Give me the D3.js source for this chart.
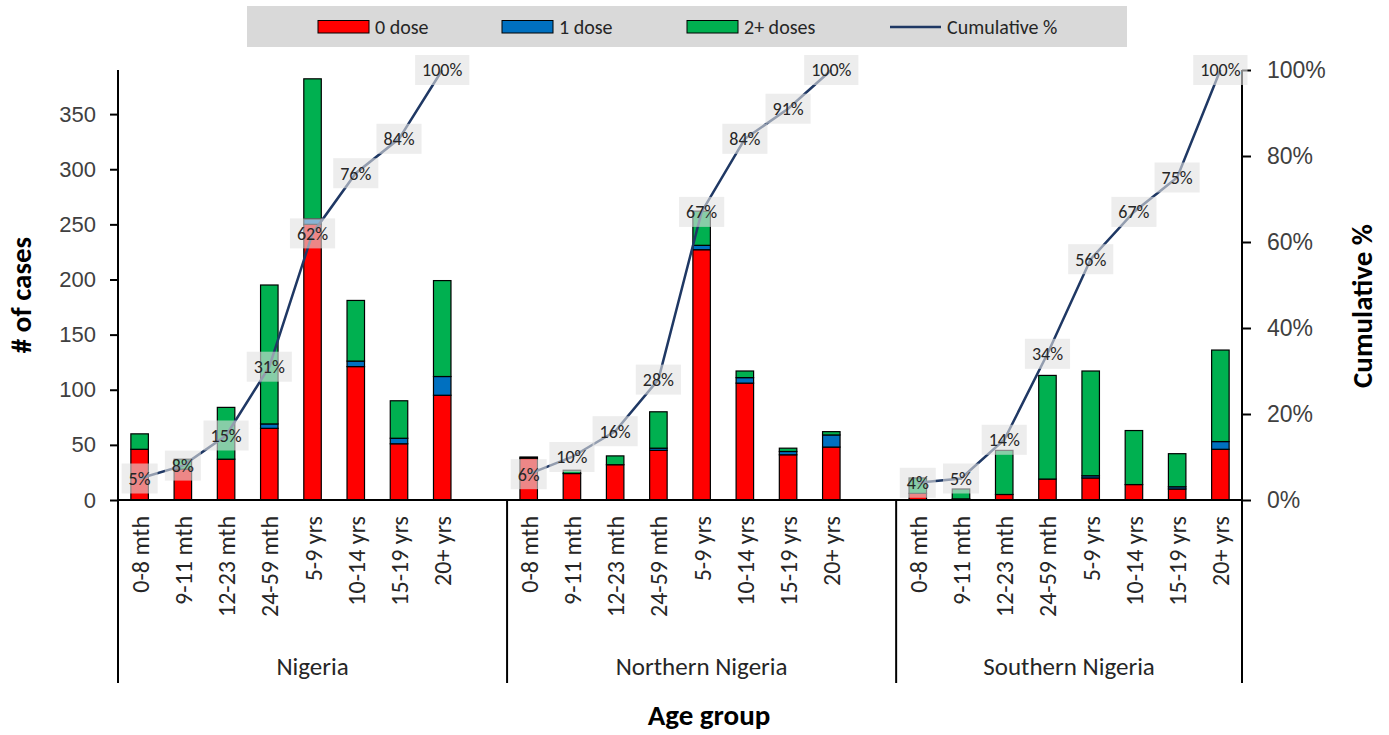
<!DOCTYPE html>
<html lang="en">
<head>
  <meta charset="UTF-8">
  <title>Cases by age group and dose</title>
  <script src="https://d3js.org/d3.v7.min.js"></script>
  <style>
    body { margin: 0; background: #fff; }
    svg { display: block; font-family: Calibri, Carlito, Lato, sans-serif; }
  </style>
</head>
<body>
  <svg width="1389" height="735"></svg>
  <script>
    // data (Nigeria, Northern Nigeria, Southern Nigeria in order)
    const regions = ["Nigeria", "Northern Nigeria", "Southern Nigeria"];
    const ageGroups = ["0-8 mth", "9-11 mth", "12-23 mth", "24-59 mth", "5-9 yrs", "10-14 yrs", "15-19 yrs", "20+ yrs"];

    const dose0 = [46, 28, 37, 65, 250, 121, 51, 95,
                   38, 24, 32, 45, 227, 106, 41, 48,
                   6, 1, 5, 19, 20, 14, 10, 46];
    const dose1 = [0, 0, 0, 4, 5, 5, 5, 17,
                   0, 0, 0, 2, 4, 5, 3, 11,
                   0, 0, 0, 0, 2, 0, 2, 7];
    const dose2 = [14, 9, 47, 126, 127, 55, 34, 87,
                   1, 3, 8, 33, 31, 6, 3, 3,
                   14, 9, 40, 94, 95, 49, 30, 83];
    const cumPct = [5, 8, 15, 31, 62, 76, 84, 100,
                    6, 10, 16, 28, 67, 84, 91, 100,
                    4, 5, 14, 34, 56, 67, 75, 100];

    const seriesNames = ["0 dose", "1 dose", "2+ doses"];
    const colors = ["#ff0000", "#0070c0", "#00b050"];
    const lineColor = "#1f3864";

    const svg = d3.select("svg");

    const plotLeft = 118, plotRight = 1242, plotTop = 70, plotBottom = 500;

    // category slots: each region gets its age groups plus a blank spacer (except the last)
    const slots = [];
    regions.forEach((r, ri) => {
      ageGroups.forEach(a => slots.push(r + "|" + a));
      if (ri < regions.length - 1) slots.push(r + "|blank");
    });

    const x = d3.scaleBand().domain(slots).range([plotLeft, plotRight]).paddingInner(0).paddingOuter(0);
    const y = d3.scaleLinear().domain([0, 390]).range([plotBottom, plotTop]);
    const yPct = d3.scaleLinear().domain([0, 1]).range([plotBottom, plotTop]);

    const rows = [];
    regions.forEach((r, ri) => {
      ageGroups.forEach((a, ai) => {
        const i = ri * ageGroups.length + ai;
        rows.push({ key: r + "|" + a, region: r, age: a, d0: dose0[i], d1: dose1[i], d2: dose2[i], cum: cumPct[i] / 100 });
      });
    });

    const stack = d3.stack().keys(["d0", "d1", "d2"])(rows);
    const barW = 17.5;

    const bars = svg.append("g");
    stack.forEach((layer, li) => {
      bars.selectAll(null)
        .data(layer.filter(d => d[1] > d[0]))
        .enter().append("rect")
        .attr("x", d => x(d.data.key) + x.bandwidth() / 2 - barW / 2)
        .attr("y", d => y(d[1]))
        .attr("width", barW)
        .attr("height", d => y(d[0]) - y(d[1]))
        .attr("fill", colors[li])
        .attr("stroke", "#000")
        .attr("stroke-width", 1.2);
    });

    // axes
    const yAxis = d3.axisLeft(y).tickValues(d3.range(0, 351, 50)).tickSize(8).tickPadding(14);
    const gY = svg.append("g").attr("transform", `translate(${plotLeft},0)`).call(yAxis);
    gY.select(".domain").attr("stroke-width", 2).attr("d", `M0,${plotBottom}V${plotTop}`);
    gY.selectAll(".tick line").attr("stroke-width", 2);
    gY.selectAll(".tick text").attr("font-size", 22).attr("fill", "#404040").attr("font-family", "inherit");

    const yAxisR = d3.axisRight(yPct).tickValues(d3.range(0, 1.01, 0.2)).tickFormat(d3.format(".0%")).tickSize(9).tickPadding(16);
    const gR = svg.append("g").attr("transform", `translate(${plotRight},0)`).call(yAxisR);
    gR.select(".domain").attr("stroke-width", 2).attr("d", `M0,${plotBottom}V${plotTop}`);
    gR.selectAll(".tick line").attr("stroke-width", 2);
    gR.selectAll(".tick text").attr("font-size", 23).attr("fill", "#404040").attr("font-family", "inherit");

    // category axis with region separators
    const sepBottom = 683;
    svg.append("line").attr("x1", plotLeft).attr("x2", plotRight).attr("y1", plotBottom).attr("y2", plotBottom)
      .attr("stroke", "#000").attr("stroke-width", 2);

    const bounds = [];
    regions.forEach(r => {
      const keys = slots.filter(s => s.startsWith(r + "|"));
      bounds.push([x(keys[0]), x(keys[keys.length - 1]) + x.bandwidth(), r]);
    });
    const seps = [plotLeft, ...bounds.map(b => b[1])];
    svg.selectAll(".sep").data(seps).enter().append("line")
      .attr("x1", d => d).attr("x2", d => d)
      .attr("y1", plotBottom).attr("y2", sepBottom)
      .attr("stroke", "#000").attr("stroke-width", 2);

    svg.selectAll(".cat").data(rows).enter().append("text")
      .attr("transform", d => `translate(${x(d.key) + x.bandwidth() / 2 + 9},${plotBottom + 16}) rotate(-90)`)
      .attr("text-anchor", "end")
      .attr("font-size", 24)
      .attr("fill", "#262626")
      .text(d => d.age);

    svg.selectAll(".grp").data(bounds).enter().append("text")
      .attr("x", d => (d[0] + d[1]) / 2)
      .attr("y", 675)
      .attr("text-anchor", "middle")
      .attr("font-size", 25)
      .attr("fill", "#262626")
      .text(d => d[2]);

    // cumulative line per region
    const line = d3.line().x(d => x(d.key) + x.bandwidth() / 2).y(d => yPct(d.cum));
    regions.forEach(r => {
      svg.append("path")
        .datum(rows.filter(d => d.region === r))
        .attr("fill", "none")
        .attr("stroke", lineColor)
        .attr("stroke-width", 2.5)
        .attr("d", line);
    });

    // data labels
    const lbl = svg.selectAll(".lbl").data(rows).enter().append("g")
      .attr("transform", d => `translate(${x(d.key) + x.bandwidth() / 2},${yPct(d.cum)})`);
    lbl.append("text")
      .attr("text-anchor", "middle")
      .attr("dy", "0.35em")
      .attr("font-size", 18)
      .attr("fill", "#262626")
      .text(d => Math.round(d.cum * 100) + "%");
    lbl.each(function() {
      const g = d3.select(this);
      const w = g.select("text").node().getComputedTextLength();
      g.insert("rect", "text")
        .attr("x", -w / 2 - 7).attr("y", -15)
        .attr("width", w + 14).attr("height", 30)
        .attr("fill", "#e1e1e1").attr("opacity", 0.6);
    });

    // axis titles
    svg.append("text")
      .attr("transform", `translate(31,295) rotate(-90)`)
      .attr("text-anchor", "middle")
      .attr("font-size", 29).attr("font-weight", "bold")
      .text("# of cases");
    svg.append("text")
      .attr("transform", `translate(1372,306) rotate(-90)`)
      .attr("text-anchor", "middle")
      .attr("font-size", 29).attr("font-weight", "bold")
      .text("Cumulative %");
    svg.append("text")
      .attr("x", 709).attr("y", 725)
      .attr("text-anchor", "middle")
      .attr("font-size", 29).attr("font-weight", "bold")
      .text("Age group");

    // legend
    const legend = svg.append("g");
    legend.append("rect").attr("x", 247).attr("y", 6).attr("width", 880).attr("height", 41).attr("fill", "#d9d9d9");
    const legendX = [318, 502, 687, 890];
    seriesNames.forEach((s, i) => {
      legend.append("rect").attr("x", legendX[i]).attr("y", 20.5).attr("width", 51).attr("height", 12.5)
        .attr("fill", colors[i]).attr("stroke", "#000").attr("stroke-width", 1);
      legend.append("text").attr("x", legendX[i] + 57).attr("y", 27).attr("dy", "0.35em")
        .attr("font-size", 20).attr("fill", "#262626").text(s);
    });
    legend.append("line").attr("x1", legendX[3]).attr("x2", legendX[3] + 51).attr("y1", 27).attr("y2", 27)
      .attr("stroke", lineColor).attr("stroke-width", 2.5);
    legend.append("text").attr("x", legendX[3] + 57).attr("y", 27).attr("dy", "0.35em")
      .attr("font-size", 20).attr("fill", "#262626").text("Cumulative %");
  </script>
</body>
</html>
